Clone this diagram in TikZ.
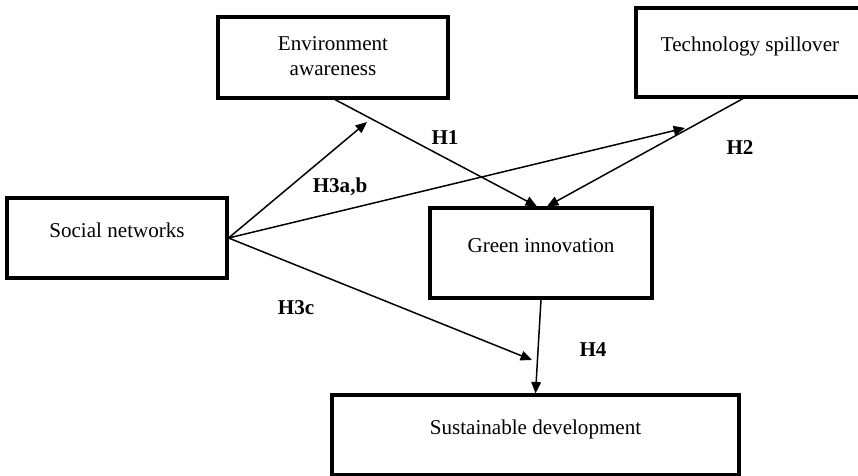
\documentclass[tikz,border=0pt]{standalone}
\usepackage{fontspec}
\setmainfont{Liberation Serif}
\usetikzlibrary{arrows.meta}
\usetikzlibrary{positioning}
\tikzstyle{box} = [rectangle, draw, line width=1.8pt, inner sep=0pt, align=center, font=\fontsize{12}{14.2}\selectfont, text depth=9pt]
\tikzstyle{hyp} = [font=\fontsize{12}{14}\selectfont\bfseries]

\begin{document}
\begin{tikzpicture}[x=0.02cm, y=-0.02cm, line width=0.85pt, >={Triangle[length=6.5pt,width=5.5pt]}]
  \useasboundingbox (0,0) rectangle (858,476);
  \clip (0,0) rectangle (858,476);

  \node[box, minimum width=4.4cm, minimum height=1.6cm] (social) at (117,238) {Social networks};
  \node[box, minimum width=4.6cm, minimum height=1.62cm, text depth=2pt] (aware) at (333,57.5) {Environment\\awareness};
  \node[box, minimum width=4.56cm, minimum height=1.78cm] (spill) at (750,52.5) {Technology spillover};
  \node[box, minimum width=4.44cm, minimum height=1.8cm] (green) at (541,253) {Green innovation};
  \node[box, minimum width=8.14cm, minimum height=1.6cm] (sustain) at (535.5,435) {Sustainable development};

  % open arrow ends
  \coordinate (toaware) at (367,122);
  \coordinate (tospill) at (685,128);
  \coordinate (tosustain) at (532,360);

  \path[->] ([xshift=0.04cm]aware.south) edge ([xshift=-0.08cm]green.north);
  \path[->] ([xshift=-0.14cm]spill.south) edge ([xshift=0.12cm]green.north);
  \path[->] (social.east) edge (toaware);
  \path[->] (social.east) edge (tospill);
  \path[->] (social.east) edge (tosustain);
  \path[->] (green.south) edge (sustain.north);

  \node[hyp] (h1) at (445,138) {H1};
  \node[hyp] (h2) at (740,148) {H2};
  \node[hyp] (h3ab) at (340,187) {H3a,b};
  \node[hyp] (h3c) at (296,308) {H3c};
  \node[hyp] (h4) at (593,350) {H4};
\end{tikzpicture}
\end{document}
